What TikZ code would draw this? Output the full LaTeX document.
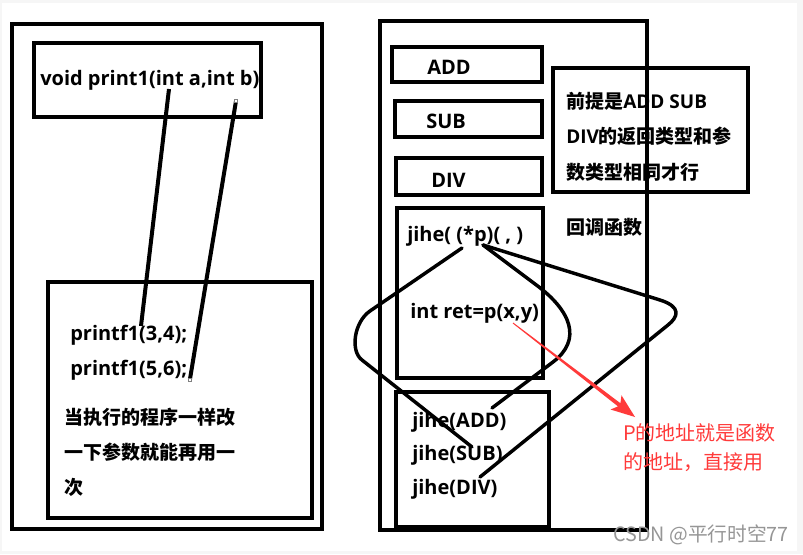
\documentclass[tikz,border=0pt]{standalone}
\usepackage{fontspec}
\setmainfont{Open Sans}
\newfontfamily\cjk{Noto Sans CJK SC}
\usetikzlibrary{fit}
\definecolor{arrowred}{RGB}{255,58,58}
\definecolor{wmgray}{RGB}{150,150,150}
\begin{document}
\begin{tikzpicture}[x=0.75pt,y=-0.75pt,
  box/.style={draw=black, line width=3pt, inner sep=0pt},
  lbl/.style={anchor=west, inner sep=0pt, font=\bfseries\fontsize{15}{18}\selectfont},
  cn/.style={anchor=west, inner sep=0pt, font=\cjk\bfseries\fontsize{14.25}{17}\selectfont},
  redtxt/.style={anchor=west, inner sep=0pt, text=arrowred, font=\cjk\fontsize{15}{18}\selectfont},
  link/.style={line width=3pt},
  loopline/.style={line width=2.6pt, line join=round, line cap=round}]

\fill[gray!7] (0,0) rectangle (803,554);
\fill[white] (2,3) rectangle (797,551);
\useasboundingbox (0,0) rectangle (803,554);

% ---------- left part ----------
\node[box, fit={(12,24) (322,529)}] (leftouter) {};
\node[box, fit={(34,43) (261,117)}] (funcbox) {};
\node[lbl] (functext) at (40,80) {void print1(int a,int b)};
\node[box, fit={(48,282) (312,518)}] (callbox) {};
\node[lbl] (call1) at (70,335) {printf1(3,4);};
\node[lbl] (call2) at (70,370) {printf1(5,6);};
\node[cn] (note1) at (64,417) {当执行的程序一样改};
\node[cn] (note2) at (64,452) {一下参数就能再用一};
\node[cn] (note3) at (64,487) {次};

\coordinate (pa) at (169,89);
\coordinate (pb) at (236,101);
\coordinate (ca) at (141,326);
\coordinate (cb) at (190,379);
\draw[link] (pa) -- (ca);
\draw[link] (pb) -- (cb);
\draw[gray, line width=0.5pt, fill=white] (234.5,99.5) rectangle (237.5,102.5);
\draw[gray, line width=0.5pt, fill=white] (188.5,378.5) rectangle (191.5,381.5);

% ---------- right part ----------
\node[box, fit={(553,68) (748,192)}] (premise) {};
\node[cn] (pre1) at (566,101) {前提是{\rmfamily ADD SUB}};
\node[cn] (pre2) at (566,136) {{\rmfamily DIV}的返回类型和参};
\node[cn] (pre3) at (566,172) {数类型相同才行};
\node[cn] (callback) at (566,227) {回调函数};

\node[box, fit={(380,21) (647,530)}] (rightouter) {};
\node[box, fit={(392,47) (542,82)}] (addbox) {};
\node[lbl] (addtxt) at (427,67) {ADD};
\node[box, fit={(395,101) (542,137)}] (subbox) {};
\node[lbl] (subtxt) at (426,121) {SUB};
\node[box, fit={(396,158) (542,195)}] (divbox) {};
\node[lbl] (divtxt) at (431,180) {DIV};

\node[box, fit={(397,208) (543,378)}] (jihebox) {};
\node[lbl] (jihedef) at (407,236) {jihe( (*p)( , )};
\node[lbl] (rettxt) at (410,313) {int ret=p(x,y)};

\node[box, fit={(396,392) (549,527)}] (jihecalls) {};
\node[lbl] (jadd) at (412,422) {jihe(ADD)};
\node[lbl] (jsub) at (412,455) {jihe(SUB)};
\node[lbl] (jdiv) at (412,489) {jihe(DIV)};

% loops
\coordinate (pstar) at (462,248);
\coordinate (pp) at (483,245);
\coordinate (endsub) at (472,447);
\coordinate (endadd) at (492,408);
\coordinate (enddiv) at (480,477);
\draw[loopline] (pstar) -- (370,311) .. controls (354,322) and (350,351) .. (362,360) -- (endsub);
\draw[loopline] (pp) -- (535,284) .. controls (572,311) and (582,340) .. (553,362) -- (endadd);
\draw[loopline] (pp) -- (660,300) .. controls (682,307) and (678,317) .. (668,325) -- (enddiv);

% red arrow
\coordinate (rs) at (513,323);
\coordinate (rt) at (635,417);
\fill[arrowred] (512.7,323.4) -- (618.0,406.4) -- (610.5,409.5) -- (rt) -- (621.5,395.3) -- (620.4,403.2) -- (513.3,322.6) -- cycle;
\node[redtxt] (red1) at (623,433) {P的地址就是函数};
\node[redtxt] (red2) at (623,462) {的地址，直接用};

% watermark
\node[anchor=west, inner sep=0pt, text=wmgray, font=\cjk\fontsize{14.8}{17}\selectfont] (wm) at (613,535) {CSDN @平行时空77};
\end{tikzpicture}
\end{document}
